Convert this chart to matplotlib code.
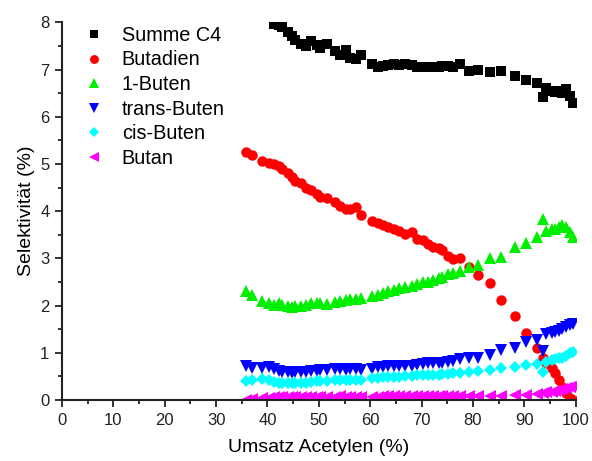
import matplotlib
matplotlib.use("Agg")
import matplotlib.pyplot as plt
from matplotlib.ticker import MultipleLocator

plt.rcParams['font.family'] = ['Liberation Sans', 'DejaVu Sans']

umsatz = [35.8, 37.0, 39.0, 40.2, 41.2, 42.2, 42.9, 43.9, 44.7, 45.4,
          46.6, 47.5, 48.5, 49.6, 50.3, 51.5, 53.1, 54.1, 55.2, 56.1,
          57.3, 58.3, 60.4, 61.5, 62.5, 63.5, 64.6, 65.6, 66.7, 68.1,
          69.1, 70.2, 71.2, 72.3, 73.3, 74.0, 75.1, 76.1, 77.5, 79.3,
          80.9, 83.3, 85.5, 88.1, 90.4, 92.4, 93.7, 94.3, 95.3, 96.0,
          96.7, 97.4, 98.1, 98.8, 99.5]

summe_c4 = [8.70, 8.45, 8.30, 8.20, 7.97, 7.95, 7.90, 7.80, 7.72, 7.62,
            7.55, 7.50, 7.60, 7.52, 7.45, 7.55, 7.40, 7.30, 7.42, 7.25,
            7.22, 7.30, 7.12, 7.06, 7.08, 7.10, 7.12, 7.10, 7.12, 7.10,
            7.06, 7.06, 7.05, 7.06, 7.06, 7.08, 7.08, 7.05, 7.12, 6.98,
            7.00, 6.94, 6.97, 6.86, 6.79, 6.72, 6.42, 6.62, 6.55, 6.52,
            6.55, 6.50, 6.58, 6.45, 6.30]

butadien = [5.25, 5.20, 5.06, 5.02, 5.00, 4.96, 4.89, 4.80, 4.72, 4.63,
            4.59, 4.50, 4.44, 4.37, 4.31, 4.28, 4.19, 4.10, 4.05, 4.04,
            4.08, 3.93, 3.79, 3.75, 3.71, 3.66, 3.63, 3.59, 3.52, 3.56,
            3.42, 3.39, 3.31, 3.25, 3.23, 3.18, 3.06, 2.99, 3.00, 2.82,
            2.64, 2.47, 2.12, 1.77, 1.41, 1.10, 0.90, 0.78, 0.67, 0.57,
            0.42, 0.28, 0.14, 0.04, 0.01]

buten1 = [2.32, 2.23, 2.10, 2.05, 2.01, 2.05, 2.01, 1.99, 1.98, 1.99,
          1.99, 2.01, 2.05, 2.06, 2.06, 2.03, 2.08, 2.10, 2.12, 2.13,
          2.13, 2.16, 2.20, 2.23, 2.26, 2.30, 2.33, 2.37, 2.39, 2.42,
          2.46, 2.49, 2.51, 2.54, 2.58, 2.61, 2.67, 2.69, 2.73, 2.82,
          2.85, 3.00, 3.04, 3.24, 3.32, 3.46, 3.84, 3.58, 3.62, 3.63,
          3.66, 3.70, 3.66, 3.56, 3.46]

trans_buten = [0.71, 0.67, 0.67, 0.69, 0.65, 0.62, 0.60, 0.59, 0.58, 0.59,
               0.60, 0.60, 0.61, 0.62, 0.64, 0.64, 0.65, 0.65, 0.64, 0.65,
               0.65, 0.64, 0.66, 0.69, 0.69, 0.71, 0.71, 0.71, 0.72, 0.73,
               0.75, 0.76, 0.78, 0.78, 0.79, 0.79, 0.81, 0.83, 0.86, 0.88,
               0.90, 0.95, 1.07, 1.10, 1.22, 1.27, 1.03, 1.39, 1.43, 1.45,
               1.47, 1.50, 1.55, 1.59, 1.62]

cis_buten = [0.41, 0.42, 0.44, 0.42, 0.39, 0.37, 0.37, 0.35, 0.35, 0.35,
             0.37, 0.37, 0.39, 0.40, 0.40, 0.41, 0.42, 0.42, 0.42, 0.42,
             0.42, 0.42, 0.46, 0.46, 0.48, 0.48, 0.48, 0.49, 0.51, 0.51,
             0.52, 0.52, 0.52, 0.53, 0.54, 0.55, 0.55, 0.57, 0.58, 0.60,
             0.62, 0.64, 0.67, 0.69, 0.74, 0.76, 0.60, 0.81, 0.85, 0.86,
             0.88, 0.90, 0.93, 0.99, 1.02]

butan = [0.01, 0.03, 0.05, 0.05, 0.06, 0.06, 0.06, 0.06, 0.06, 0.07,
         0.07, 0.07, 0.07, 0.07, 0.07, 0.07, 0.07, 0.08, 0.07, 0.07,
         0.07, 0.07, 0.07, 0.07, 0.08, 0.08, 0.08, 0.08, 0.08, 0.08,
         0.08, 0.08, 0.08, 0.08, 0.08, 0.08, 0.08, 0.09, 0.09, 0.09,
         0.09, 0.08, 0.09, 0.10, 0.10, 0.13, 0.14, 0.16, 0.18, 0.20,
         0.21, 0.23, 0.26, 0.28, 0.30]

series = [
    ("Summe C4", summe_c4, "s", "#000000"),
    ("Butadien", butadien, "o", "#ff0000"),
    ("1-Buten", buten1, "^", "#00ee00"),
    ("trans-Buten", trans_buten, "v", "#0000ff"),
    ("cis-Buten", cis_buten, "D", "#00ffff"),
    ("Butan", butan, "<", "#ff00ff"),
]
sizes = {"s": 7, "o": 7.5, "^": 8, "v": 8, "D": 6.5, "<": 8}

fig = plt.figure(figsize=(5.92, 4.61), dpi=100)
ax = fig.add_axes([0.1047, 0.1323, 0.8678, 0.8191])

for name, vals, mk, col in series:
    ax.plot(umsatz, vals, linestyle="none", marker=mk, color=col,
            markersize=sizes[mk], markeredgewidth=0, label=name)

ax.set_xlim(0, 100)
ax.set_ylim(0, 8)
ax.xaxis.set_major_locator(MultipleLocator(10))
ax.xaxis.set_minor_locator(MultipleLocator(5))
ax.yaxis.set_major_locator(MultipleLocator(1))
ax.yaxis.set_minor_locator(MultipleLocator(0.5))

for s in ["top", "right"]:
    ax.spines[s].set_visible(False)
for s in ["left", "bottom"]:
    ax.spines[s].set_linewidth(1.5)
    ax.spines[s].set_color("#222222")

ax.tick_params(which="major", direction="out", length=5, width=1.3,
               labelsize=12, pad=4, colors="#222222")
ax.tick_params(which="minor", direction="out", length=3, width=1.3,
               colors="#222222")

ax.set_xlabel("Umsatz Acetylen (%)", fontsize=14, labelpad=8)
ax.set_ylabel("Selektivität (%)", fontsize=14, labelpad=4)

ax.legend(loc="upper left", bbox_to_anchor=(0.004, 1.038), frameon=False,
          fontsize=14.3, handletextpad=0.8, labelspacing=0.28,
          handlelength=1.2, markerscale=0.85)

fig.savefig("out.png", dpi=100)
